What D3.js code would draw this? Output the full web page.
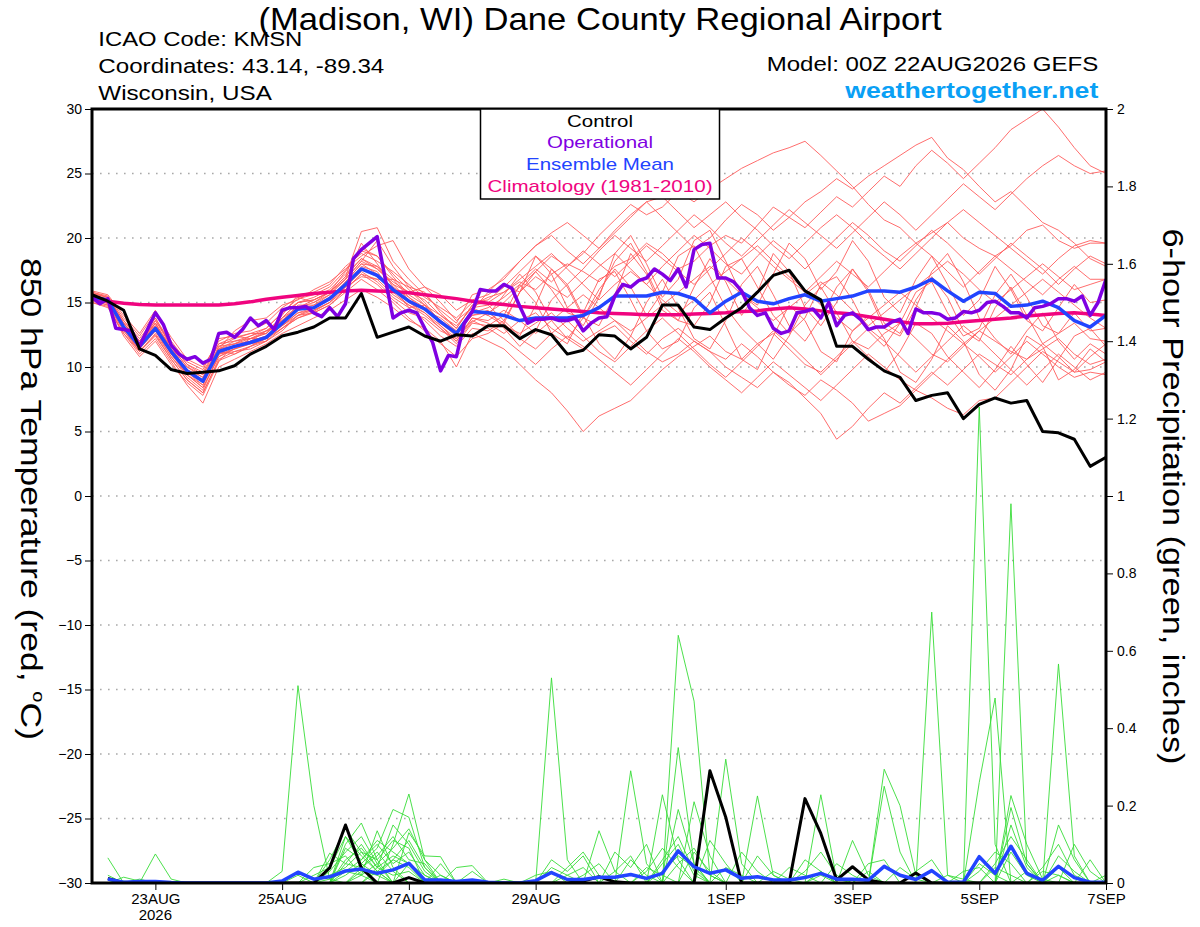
<!DOCTYPE html>
<html>
<head>
<meta charset="utf-8">
<title>KMSN GEFS plume</title>
<script src="https://cdn.jsdelivr.net/npm/d3@7/dist/d3.min.js"></script>
<style>
  html, body { margin: 0; padding: 0; background: #fff; }
  svg text { font-family: "Liberation Sans", Arial, Helvetica, sans-serif; }
</style>
</head>
<body>
<svg id="chart" width="1200" height="927"></svg>
<script>
// time axis: 6-hour steps from 00Z 22AUG2026 (step 0) to 00Z 7SEP2026 (step 64)
const dateSteps = [4, 12, 20, 28, 40, 48, 56, 64];
const dateLabels = ['23AUG', '25AUG', '27AUG', '29AUG', '1SEP', '3SEP', '5SEP', '7SEP'];
const tempTicks = [-30, -25, -20, -15, -10, -5, 0, 5, 10, 15, 20, 25, 30];
const precipTicks = [0, 0.2, 0.4, 0.6, 0.8, 1, 1.2, 1.4, 1.6, 1.8, 2];

// 850 hPa temperature, steps 0..64
const tempControl = [
  15.6, 15.1, 14.4, 11.4, 10.9, 9.8, 9.5, 9.6, 9.7, 10.1,
  11.0, 11.6, 12.4, 12.7, 13.1, 13.8, 13.8, 15.7, 12.3, 12.7,
  13.1, 12.4, 12.0, 12.5, 12.4, 13.2, 13.2, 12.2, 12.9, 12.5,
  11.0, 11.3, 12.5, 12.4, 11.4, 12.3, 14.8, 14.8, 13.1, 12.9,
  13.8, 14.6, 15.8, 17.1, 17.5, 15.9, 15.2, 11.6, 11.6, 10.6,
  9.7, 9.2, 7.4, 7.8, 8.0, 6.0, 7.1, 7.6, 7.2, 7.4,
  5.0, 4.9, 4.4, 2.3, 3.0
];
const tempMean = [
  15.4, 15.2, 13.1, 11.6, 13.0, 11.2, 9.7, 8.9, 11.2, 11.6,
  11.9, 12.3, 13.4, 14.5, 14.6, 15.3, 16.4, 17.6, 17.1, 16.0,
  15.1, 14.5, 13.5, 12.6, 14.3, 14.2, 14.0, 13.6, 13.8, 13.8,
  13.8, 14.0, 14.6, 15.5, 15.5, 15.5, 15.8, 15.7, 15.3, 14.2,
  15.1, 15.8, 15.1, 14.9, 15.3, 15.6, 15.1, 15.3, 15.5, 15.9,
  15.9, 15.8, 16.2, 16.8, 15.9, 15.1, 15.8, 15.7, 14.7, 14.8,
  15.1, 14.6, 13.6, 13.1, 14.0
];
const tempClimatology = [
  15.3, 15.1, 14.95, 14.85, 14.8, 14.8, 14.8, 14.8, 14.8, 14.9,
  15.05, 15.25, 15.4, 15.55, 15.7, 15.8, 15.9, 15.95, 15.9, 15.85,
  15.75, 15.6, 15.45, 15.3, 15.1, 14.95, 14.85, 14.7, 14.6, 14.5,
  14.4, 14.3, 14.2, 14.15, 14.1, 14.05, 14.05, 14.05, 14.1, 14.15,
  14.2, 14.3, 14.35, 14.5, 14.6, 14.5, 14.35, 14.2, 14.1, 13.9,
  13.7, 13.5, 13.35, 13.35, 13.4, 13.5, 13.6, 13.7, 13.8, 13.95,
  14.05, 14.15, 14.2, 14.1, 14.0
];
// operational run is 3-hourly: half steps 0, 0.5, ... 64
const tempOperational = [
  15.4, 14.9, 15.3, 13.0, 12.9, 12.8, 11.6, 12.9, 14.2, 13.3,
  11.7, 11.0, 10.6, 10.8, 10.3, 10.6, 12.6, 12.7, 12.3, 12.9,
  13.8, 13.2, 13.6, 12.9, 14.4, 14.6, 14.6, 14.7, 14.2, 13.9,
  14.6, 13.9, 14.9, 18.4, 19.1, 19.6, 20.1, 16.9, 13.8, 14.2,
  14.4, 14.2, 13.0, 11.9, 9.7, 10.9, 10.8, 13.4, 14.3, 16.0,
  15.9, 15.9, 16.4, 16.1, 14.7, 13.4, 13.7, 13.7, 13.8, 13.6,
  13.6, 13.8, 12.8, 13.4, 13.8, 13.9, 15.5, 16.4, 16.2, 16.7,
  16.9, 17.6, 17.2, 16.7, 17.6, 16.2, 19.1, 19.5, 19.6, 16.9,
  16.9, 16.6, 15.9, 14.6, 14.0, 14.2, 13.0, 12.6, 12.8, 14.2,
  14.3, 14.5, 13.8, 15.0, 13.2, 14.0, 14.2, 13.7, 12.9, 13.1,
  13.1, 13.5, 13.7, 12.6, 14.5, 14.2, 14.2, 14.1, 13.7, 13.8,
  14.3, 14.2, 14.4, 15.0, 15.1, 14.7, 14.2, 14.2, 13.8, 14.6,
  14.7, 14.9, 15.3, 15.3, 15.1, 15.5, 14.0, 15.0, 16.8
];
const tempMembers = [
  [15.6,15.0,13.4,12.0,13.6,11.8,10.2,9.4,11.8,12.3,12.6,13.0,14.2,15.3,15.6,16.2,17.5,19.2,18.6,17.0,15.6,14.8,13.2,12.0,13.5,
   14.2,15.0,16.2,17.4,18.6,17.8,18.8,20.2,21.4,22.6,21.8,22.4,23.6,22.8,23.8,24.6,25.4,26.0,26.6,27.0,27.5,26.4,25.2,24.0,22.6,21.4,20.8,19.6,20.4,21.2,20.0,19.2,18.6,19.4,20.6,21.0,19.8,19.2,19.6,19.6],
  [15.2,15.3,13.0,11.2,12.5,10.6,9.0,8.0,10.5,11.0,11.6,12.2,13.0,13.8,14.3,15.0,16.6,18.0,17.8,16.4,15.8,15.2,14.0,13.0,14.8,
   15.4,15.8,16.6,16.0,17.2,18.0,17.4,16.6,17.8,18.4,19.6,18.8,17.6,18.2,19.4,20.2,19.6,21.0,22.4,21.6,20.8,22.0,23.2,22.4,23.6,24.8,24.0,25.6,26.8,25.8,24.6,25.8,27.0,28.4,29.2,30.0,28.6,27.0,25.6,25.0],
  [15.8,15.5,13.8,12.4,14.2,12.3,10.6,10.0,12.0,12.6,12.8,13.4,14.6,15.4,15.0,15.8,17.0,20.5,20.8,18.2,16.8,15.6,14.4,13.4,15.6,
   16.0,16.8,18.2,19.4,20.2,19.0,18.0,19.2,20.6,21.8,22.8,21.6,20.4,19.2,20.0,21.4,22.6,21.8,20.6,21.6,22.8,23.6,24.6,23.8,24.8,25.6,26.4,27.2,27.8,26.2,25.3,24.0,22.8,23.6,22.4,21.2,20.6,19.6,18.4,17.8],
  [15.0,14.6,12.6,11.0,12.2,10.4,8.6,7.2,10.0,10.6,11.2,11.8,12.6,13.2,13.8,14.4,15.2,16.0,15.4,14.6,13.6,13.0,12.0,10.0,12.6,
   12.0,11.4,10.2,9.0,8.0,6.6,5.0,6.2,6.8,7.4,8.6,9.8,10.8,11.6,12.4,11.2,10.6,11.8,12.6,11.4,10.2,9.6,10.8,12.0,11.4,12.6,13.4,12.2,11.0,10.4,11.6,12.8,12.0,11.2,10.6,11.4,12.2,11.0,10.2,10.6],
  [15.5,15.1,13.2,11.8,13.2,11.4,9.8,8.8,11.4,12.8,13.6,13.8,14.8,15.2,16.0,16.6,17.6,18.6,19.4,19.8,17.6,16.2,15.0,13.6,14.6,
   14.0,13.2,12.6,13.4,14.2,13.0,12.0,12.8,13.6,12.4,11.2,10.4,11.0,12.0,11.2,10.0,9.2,8.4,9.6,8.8,7.6,6.4,4.4,5.4,6.8,8.0,7.2,8.4,9.6,8.6,9.8,11.0,10.2,9.4,10.6,11.8,10.8,9.6,9.8,10.4],
  [15.3,14.9,12.8,11.4,12.8,10.8,9.4,8.4,10.8,11.4,11.8,12.0,12.8,14.0,14.2,14.8,16.0,17.2,16.4,15.2,14.2,13.8,12.8,12.2,13.8,
   13.4,12.6,13.6,14.2,13.0,12.2,11.4,12.6,13.2,12.0,11.0,12.2,13.0,12.0,11.2,10.6,11.8,10.8,9.6,8.6,7.8,9.0,8.2,7.2,5.8,6.4,7.0,8.2,7.6,6.8,6.3,7.4,7.6,8.8,10.0,11.2,10.4,9.6,10.8,11.8],
  [15.7,15.4,13.6,12.2,13.8,11.6,10.0,9.2,11.0,11.2,11.4,12.0,13.8,15.0,15.4,16.0,17.2,18.4,17.6,16.6,15.8,16.2,15.6,14.4,15.2,
   15.6,16.4,15.8,17.0,16.2,15.4,16.6,17.8,18.8,17.6,16.4,17.8,19.0,20.2,19.2,18.0,17.2,18.6,19.8,18.8,17.6,18.8,20.0,21.2,20.2,19.0,18.2,19.4,20.6,19.6,18.4,17.2,18.4,19.6,18.6,17.6,16.4,17.6,18.6,18.0],
  [15.4,15.2,13.0,11.6,13.4,11.0,9.6,9.0,11.6,12.2,12.6,12.6,13.6,14.8,14.8,15.6,16.8,19.6,18.0,16.2,14.6,13.6,12.4,11.6,13.0,
   12.8,13.6,15.8,17.4,16.0,14.2,13.8,15.6,18.2,19.6,17.4,14.8,13.6,13.2,15.0,17.8,18.4,16.2,14.0,12.6,13.8,16.4,17.0,15.2,12.8,11.6,13.4,15.8,16.6,14.2,12.4,13.0,15.6,17.2,15.4,13.2,12.6,13.4,12.2,12.0],
  [15.1,14.8,12.4,10.8,12.0,10.2,8.8,7.8,10.4,11.8,12.4,12.8,13.2,14.0,14.4,15.0,16.2,17.0,16.8,16.8,15.4,14.4,13.8,12.8,14.0,
   14.2,13.4,12.2,11.4,12.6,13.6,12.4,11.2,10.4,11.6,12.8,13.8,12.6,11.4,10.2,9.2,10.4,11.6,12.8,11.8,10.6,9.4,10.6,11.8,13.0,12.0,10.8,9.6,10.8,12.0,13.2,12.2,11.0,9.8,8.6,9.8,11.0,10.0,9.0,9.6],
  [15.9,15.6,14.0,12.6,14.4,12.0,10.4,9.8,12.2,12.4,12.2,12.6,14.0,15.6,15.8,16.4,17.8,18.8,18.2,17.4,16.4,15.4,14.6,13.8,15.0,
   15.2,16.2,17.4,18.6,17.6,16.4,17.6,19.0,20.2,19.2,18.2,19.4,20.6,21.8,20.8,19.6,18.6,19.8,21.0,22.2,21.2,20.2,19.2,20.4,21.6,22.8,21.8,20.6,21.8,23.0,24.2,23.2,22.2,23.4,24.6,25.6,26.4,25.6,25.0,25.2],
  [15.4,15.0,13.2,11.4,13.0,11.2,9.4,8.6,11.2,11.0,11.6,12.4,13.6,14.4,14.8,15.4,16.4,17.8,17.4,15.8,14.8,14.2,13.0,11.8,13.4,
   13.2,14.0,16.4,15.0,12.6,11.8,14.2,16.8,17.4,15.2,12.8,11.4,12.0,14.6,15.8,13.2,10.6,9.8,12.4,14.8,13.6,11.2,10.4,12.8,14.0,12.2,9.6,8.8,10.6,13.2,12.0,9.4,8.2,9.8,12.4,11.6,9.0,9.8,11.4,10.4],
  [15.6,15.2,13.4,11.8,13.2,11.6,10.0,9.4,11.4,11.6,12.0,12.8,13.6,14.6,15.2,15.8,16.8,18.2,19.8,17.8,16.2,15.0,13.4,12.4,14.2,
   14.6,15.4,16.4,17.6,16.6,17.8,19.0,18.0,17.0,18.2,19.4,18.4,17.4,16.4,17.6,18.8,20.0,19.0,17.8,16.8,15.8,17.0,18.2,17.2,16.2,17.4,18.6,19.6,18.6,17.4,16.2,17.4,18.6,17.6,16.6,15.6,16.8,17.8,16.8,16.8],
  [15.2,14.8,12.8,11.2,12.6,10.8,9.2,8.2,11.0,11.4,12.2,12.2,13.0,14.0,14.6,15.2,16.2,17.4,16.6,15.4,14.6,14.8,14.0,13.2,14.6,
   14.8,13.6,12.4,14.8,17.6,16.2,13.8,13.2,15.6,18.8,17.2,14.4,13.6,16.2,18.4,16.6,14.0,15.8,18.8,17.4,14.6,13.2,15.0,17.6,16.0,13.4,12.6,15.2,17.0,15.4,12.8,12.0,14.6,16.2,14.0,11.8,12.6,14.2,12.8,13.0],
  [15.5,15.3,13.0,11.8,13.4,11.4,9.8,9.0,11.6,11.8,12.0,12.4,13.2,14.2,14.6,15.4,16.6,18.0,17.2,16.0,15.0,14.2,13.2,12.2,13.6,
   13.0,12.2,11.2,10.2,11.4,12.4,11.6,10.6,9.6,8.6,9.8,11.0,12.2,11.2,10.0,9.0,8.0,9.2,10.4,9.4,8.4,7.4,8.6,9.8,11.0,10.0,9.0,8.2,9.4,10.6,11.8,10.8,9.6,10.8,12.0,11.0,10.0,9.2,9.6,9.4],
  [15.8,15.4,13.6,12.0,13.8,11.8,10.2,9.6,11.8,12.0,12.4,13.0,14.2,15.0,15.2,15.8,17.4,19.0,18.6,17.2,16.0,14.8,13.6,12.8,14.4,
   15.8,17.0,18.2,19.4,20.4,21.2,20.2,19.2,20.4,21.6,22.8,23.2,22.0,20.8,21.8,22.8,21.6,20.6,19.4,18.4,19.6,20.8,21.8,20.8,19.6,18.6,17.6,18.8,20.0,21.2,22.2,21.2,20.2,19.2,18.2,17.2,18.4,19.4,19.8,19.6],
  [15.0,14.7,12.6,11.2,12.4,10.6,9.0,8.0,10.6,11.2,11.6,12.0,13.0,13.8,14.2,14.8,15.8,16.8,16.0,15.0,13.8,12.8,11.8,10.8,12.2,
   12.6,13.4,15.8,18.6,17.2,14.6,13.2,15.4,18.8,20.2,18.0,15.4,16.8,19.8,20.6,18.2,15.6,14.8,17.2,19.6,18.4,16.0,17.4,19.8,18.2,15.4,14.2,16.8,18.6,16.4,14.0,15.2,17.8,16.0,13.6,12.8,14.6,16.4,15.0,15.2],
  [15.3,15.1,13.2,11.6,13.0,11.0,9.6,8.8,11.0,11.6,12.0,12.4,13.4,14.4,14.6,15.2,16.2,17.6,17.0,16.2,15.4,14.6,13.6,12.6,14.0,
   14.4,13.0,11.6,12.8,15.2,16.4,14.0,11.8,10.6,12.4,15.0,16.8,14.6,12.2,11.4,13.6,16.4,17.8,15.6,13.2,12.0,13.8,16.2,17.6,15.8,13.0,12.4,14.6,17.4,18.8,16.6,13.8,12.2,11.0,12.8,14.2,12.0,10.6,11.8,11.0],
  [15.6,15.3,13.4,12.0,13.4,11.4,9.8,9.2,11.4,11.8,12.2,12.6,13.8,15.0,15.2,15.8,17.0,18.4,17.8,16.8,16.2,15.8,14.2,13.0,14.8,
   15.0,15.8,16.8,17.8,18.8,17.6,16.4,15.2,16.4,17.4,16.4,15.2,14.2,15.2,16.4,17.4,18.4,19.4,18.2,17.0,16.0,14.8,13.8,12.8,13.8,14.8,15.8,14.8,13.8,12.8,11.8,12.8,13.8,14.8,15.8,16.8,15.8,14.8,13.8,13.0],
  [15.4,15.0,13.0,11.4,12.8,11.0,9.4,8.4,10.8,11.4,11.8,12.2,13.2,14.2,14.4,15.0,16.0,17.2,16.8,15.6,14.8,14.0,13.0,12.0,13.8,
   13.6,14.4,13.6,12.6,13.6,14.6,15.6,14.6,13.6,12.8,13.8,14.8,15.8,16.8,17.8,16.8,15.6,14.6,13.6,14.6,15.6,16.6,15.6,14.4,13.2,14.2,15.2,16.2,17.2,18.2,17.2,16.0,15.0,16.0,17.0,18.0,17.0,16.0,16.4,16.8],
  [15.7,15.4,13.4,11.8,13.6,11.6,9.6,8.6,11.4,12.0,12.2,12.8,13.8,14.6,15.0,15.6,16.8,18.2,17.6,16.4,15.2,14.6,13.4,12.6,14.4,
   14.0,15.6,17.2,15.8,13.6,12.2,13.8,16.0,17.6,16.2,14.0,15.8,18.6,19.4,17.0,14.6,13.0,11.8,10.6,12.4,14.8,16.2,14.2,12.0,10.8,9.6,11.2,13.4,12.6,10.8,9.6,8.4,9.8,11.6,10.2,8.8,10.6,12.4,13.0,11.6]
];

// 6-hour precipitation (inches), steps 1..64
const precipControl = [
  .012,0,0,0,0,0,0,0, 0,0,0,0,0,0,.039,.15, .039,0,0,.014,0,0,0,0, 0,0,0,0,0,0,.005,.016,
  .003,0,0,0,0,0,.29,.17, 0,0,0,0,.218,.128,.008,.042, .008,0,0,.026,0,0,0,0, 0,0,0,0,0,0,0,0
];
const precipMean = [
  .01,.002,.004,.004,.001,0,0,0, 0,0,0,.005,.028,.01,.016,.031, .036,.025,.034,.051,.008,.008,.004,.008,
  .002,0,0,.006,.027,.009,.009,.015, .015,.022,.012,.025,.083,.042,.025,.034, .012,.016,.008,.008,.014,.025,.01,.01,
  .007,.043,.02,.009,.032,.002,.002,.068, .025,.095,.025,.007,.043,.014,.002,.002
];
const precipMembers = [
  [.065,0,0,0,0,0,0,0, 0,0,0,0,0,0,.03,.08, .12,.05,0,0,0,0,0,0, 0,0,0,0,.53,.06,0,0, 0,0,0,0,0,0,0,0, 0,0,0,0,0,.03,0,0, 0,0,0,0,0,0,0,1.23, .1,0,0,0,.02,0,0,0],
  [0,0,0,.075,.01,0,0,0, 0,0,0,.03,.51,.2,.01,0, 0,0,.1,.23,.06,0,0,0, 0,0,0,0,0,0,0,0, 0,0,0,0,.64,.47,.02,0, 0,0,0,0,0,0,0,0, 0,0,0,0,0,0,0,0, 0,.98,.05,0,0,0,0,0],
  [0,.015,.005,0,0,0,0,0, 0,0,0,0,0,0,0,.12, .05,.09,.19,.17,.04,0,0,0, 0,0,0,0,0,0,0,0, 0,.29,.05,0,0,0,0,0, 0,0,0,0,0,0,0,0, 0,0,0,0,.7,.02,0,0, 0,0,0,0,.566,.07,0,0],
  [.02,0,0,0,0,0,0,0, 0,0,0,0,0,0,.06,.14, .08,.03,0,.13,.07,.068,0,0, 0,0,0,0,0,0,0,0, 0,0,0,0,.35,.05,0,0, 0,0,0,0,0,0,0,0, 0,.294,.2,.02,0,0,0,.26, .478,0,0,0,0,0,0,0],
  [0,0,0,0,0,0,0,0, 0,0,0,0,0,0,0,.1, .155,.06,.11,.09,0,.02,0,0, 0,0,0,0,0,0,0,0, 0,0,0,0,0,0,0,.32, .05,0,0,0,0,0,0,0, 0,0,0,0,0,0,0,0, 0,.226,.1,.01,0,0,0,0],
  [0,0,0,0,0,0,0,0, 0,0,0,0,0,.04,.05,.07, .02,.135,.04,0,0,0,.04,.045, 0,0,0,0,0,0,0,0, 0,0,0,.228,.06,0,0,0, 0,0,0,0,0,0,0,0, 0,.25,.08,0,0,0,0,0, 0,.195,.05,0,0,0,0,0],
  [0,0,0,0,0,0,0,0, 0,0,0,0,.02,0,0,.09, .06,.11,.08,.05,0,0,0,0, 0,0,0,0,0,0,0,.135, .03,0,0,0,0,0,0,0, 0,.225,.02,0,0,0,0,0, 0,0,0,0,0,0,0,0, 0,0,0,0,.15,.06,0,0],
  [0,0,0,0,0,0,0,0, 0,0,0,0,0,0,.077,.05, .1,.04,.15,.1,.03,0,0,0, 0,0,0,0,.06,.03,.07,0, 0,0,0,0,0,0,0,0, 0,0,0,0,0,.228,.01,0, 0,0,0,0,0,0,0,0, 0,.15,.04,0,0,0,0,0],
  [0,0,0,0,0,0,0,0, 0,0,0,0,0,0,0,.06, .09,.04,.07,.05,0,0,0,0, 0,0,0,0,0,.04,.08,.02, 0,0,0,0,0,.21,.07,0, 0,0,0,0,0,0,0,.11, .02,0,0,0,0,0,0,0, .05,.12,.06,0,0,0,0,0],
  [0,0,0,0,0,0,0,0, 0,0,0,0,0,0,0,0, .04,.07,.12,.06,.05,0,0,0, 0,0,0,0,0,0,0,0, .08,.04,.1,0,0,0,0,0, .08,.03,0,0,0,0,0,0, 0,0,0,.03,.06,0,0,0, 0,0,0,0,0,.1,.03,0],
  [0,0,0,0,0,0,0,0, 0,0,0,0,0,0,0,.03, .06,.1,.05,.08,.02,0,0,0, 0,0,0,0,.04,.02,0,0, 0,0,0,.06,.12,.03,0,0, 0,0,0,0,.06,.03,0,0, 0,0,0,0,0,0,.03,.04, 0,0,0,0,0,0,.06,0],
  [0,0,0,0,0,0,0,0, 0,0,0,0,0,.02,.04,.12, .07,.03,0,0,0,.05,0,0, 0,0,0,0,0,0,0,0, 0,.06,.02,0,0,0,.11,.05, 0,0,0,0,0,0,0,0, .05,.06,0,0,0,0,0,0, 0,0,0,.04,.1,.02,0,0],
  [0,0,0,0,0,0,0,0, 0,0,0,0,0,0,0,0, .02,.05,.09,.14,.06,.02,0,0, 0,0,0,0,0,0,.02,.05, 0,0,0,0,.19,.05,0,0, 0,0,0,.04,.02,0,0,0, 0,0,0,0,0,0,0,.03, .08,.05,0,0,0,0,0,0],
  [0,0,0,0,0,0,0,0, 0,0,0,0,0,0,.02,.04, .08,.06,0,0,0,0,0,0, 0,.01,0,.02,.03,0,0,0, 0,0,.03,.09,.04,0,0,0, 0,0,0,0,0,0,.05,.02, 0,0,0,0,0,0,0,0, 0,0,.03,0,.04,0,0,0],
  [0,0,0,0,0,0,0,0, 0,0,0,0,0,0,0,0, 0,.03,.06,.11,.04,0,0,.03, 0,0,0,0,0,0,0,0, 0,0,0,.05,.1,.02,0,0, 0,.07,.02,0,0,0,0,0, 0,0,.04,.01,0,0,0,0, 0,.08,.02,0,0,0,0,0],
  [0,.005,0,0,0,0,0,0, 0,0,0,0,0,0,0,.05, .04,.08,.03,0,0,0,0,0, 0,0,0,0,0,0,0,0, .03,.07,0,0,0,0,0,.04, .02,0,0,0,0,0,0,0, 0,0,0,0,0,.02,.01,0, 0,0,0,0,0,0,0,.02],
  [0,0,0,0,0,0,0,0, 0,0,0,0,0,0,0,0, .03,.02,.06,.04,0,0,0,0, 0,0,0,0,0,.02,.04,0, 0,0,0,0,0,.08,.03,0, 0,0,0,0,.03,.08,.02,0, 0,0,0,0,0,0,0,0, .04,.02,0,0,0,0,0,0],
  [0,0,0,0,0,0,0,0, 0,0,0,0,0,0,0,.02, .05,.02,0,.05,.02,0,0,0, 0,0,0,0,0,0,0,0, 0,0,0,.03,.07,.04,0,0, 0,0,0,0,0,0,0,0, .03,0,0,0,0,0,0,0, 0,0,0,0,.07,.03,0,0],
  [0,0,.01,0,0,0,0,0, 0,0,0,0,0,0,0,0, 0,.04,.02,.03,0,0,0,0, 0,0,0,0,0,0,0,0, 0,0,.04,.02,0,0,0,0, 0,0,.03,.01,0,0,0,0, 0,0,0,0,0,0,0,.05, .02,0,0,0,0,0,0,0],
  [0,0,0,0,0,0,0,0, 0,0,0,0,0,0,.01,.03, .02,0,0,0,0,0,0,0, 0,0,0,0,0,0,0,0, 0,0,0,0,.05,.09,.02,0, 0,0,0,0,0,.02,0,0, 0,0,0,0,0,0,0,0, 0,0,0,.03,.02,0,0,0]
];

const plot = { left: 92, right: 1106, top: 109, bottom: 883 };

const svg = d3.select('#chart');

const x = d3.scaleLinear().domain([0, 64]).range([plot.left, plot.right]);
const yT = d3.scaleLinear().domain([-30, 30]).range([plot.bottom, plot.top]);
const yP = d3.scaleLinear().domain([0, 2]).range([plot.bottom, plot.top]);

svg.append('defs').append('clipPath').attr('id', 'plot-clip')
  .append('rect')
  .attr('x', plot.left).attr('y', plot.top)
  .attr('width', plot.right - plot.left).attr('height', plot.bottom - plot.top);

// stretched text, the way GrADS draws its strings
function stretched(parent, str, opts) {
  const t = parent.append('text')
    .attr('x', opts.x || 0).attr('y', opts.y || 0)
    .attr('font-size', opts.size)
    .attr('text-anchor', opts.anchor || 'start')
    .attr('fill', opts.color || '#000')
    .attr('textLength', opts.width)
    .attr('lengthAdjust', 'spacingAndGlyphs')
    .text(str);
  if (opts.bold) t.attr('font-weight', 'bold');
  if (opts.transform) t.attr('transform', opts.transform);
  return t;
}

// dotted grid lines
svg.append('g').selectAll('line')
  .data(tempTicks.slice(1, -1))
  .join('line')
  .attr('x1', plot.left).attr('x2', plot.right)
  .attr('y1', (d) => yT(d)).attr('y2', (d) => yT(d))
  .attr('stroke', '#a9a9a9')
  .attr('stroke-width', 1.3)
  .attr('stroke-dasharray', '1.6,6.4');

const tempLine = d3.line().x((d, i) => x(i)).y((d) => yT(d));
const opLine = d3.line().x((d, i) => x(i / 2)).y((d) => yT(d));
const precipLine = d3.line().x((d, i) => x(i + 1)).y((d) => yP(d));

const marks = svg.append('g')
  .attr('clip-path', 'url(#plot-clip)')
  .attr('fill', 'none')
  .attr('stroke-linejoin', 'round');

marks.selectAll('.temp-member')
  .data(tempMembers)
  .join('path')
  .attr('class', 'temp-member')
  .attr('d', tempLine)
  .attr('stroke', '#ff5c5c')
  .attr('stroke-width', 0.9);

marks.selectAll('.precip-member')
  .data(precipMembers)
  .join('path')
  .attr('class', 'precip-member')
  .attr('d', precipLine)
  .attr('stroke', '#38dc38')
  .attr('stroke-width', 0.9);

marks.append('path').datum(tempClimatology)
  .attr('d', tempLine).attr('stroke', '#f0047f').attr('stroke-width', 3.5);
marks.append('path').datum(tempMean)
  .attr('d', tempLine).attr('stroke', '#2244ff').attr('stroke-width', 3.5);
marks.append('path').datum(tempOperational)
  .attr('d', opLine).attr('stroke', '#7f00e2').attr('stroke-width', 3.5);
marks.append('path').datum(tempControl)
  .attr('d', tempLine).attr('stroke', '#000').attr('stroke-width', 3);

marks.append('path').datum(precipControl)
  .attr('d', precipLine).attr('stroke', '#000').attr('stroke-width', 3);
marks.append('path').datum(precipMean)
  .attr('d', precipLine).attr('stroke', '#2244ff').attr('stroke-width', 3.5);

// axes
const leftAxis = svg.append('g')
  .attr('transform', `translate(${plot.left},0)`)
  .call(d3.axisLeft(yT).tickValues(tempTicks).tickSize(7).tickSizeOuter(0).tickPadding(3));
leftAxis.attr('font-size', 14).attr('font-family', null);
leftAxis.select('.domain').remove();

const rightAxis = svg.append('g')
  .attr('transform', `translate(${plot.right},0)`)
  .call(d3.axisRight(yP).tickValues(precipTicks).tickSize(7).tickSizeOuter(0).tickPadding(4)
    .tickFormat((d) => String(+d.toFixed(1))));
rightAxis.attr('font-size', 14).attr('font-family', null);
rightAxis.select('.domain').remove();

const bottomAxis = svg.append('g')
  .attr('transform', `translate(0,${plot.bottom})`)
  .call(d3.axisBottom(x).tickValues(dateSteps).tickSize(7).tickSizeOuter(0).tickPadding(3)
    .tickFormat((d, i) => dateLabels[i]));
bottomAxis.attr('font-size', 15).attr('font-family', null);
bottomAxis.select('.domain').remove();

svg.append('text')
  .attr('x', x(dateSteps[0])).attr('y', 920)
  .attr('font-size', 15).attr('text-anchor', 'middle')
  .text('2026');

// plot frame
svg.append('rect')
  .attr('x', plot.left).attr('y', plot.top)
  .attr('width', plot.right - plot.left).attr('height', plot.bottom - plot.top)
  .attr('fill', 'none').attr('stroke', '#000').attr('stroke-width', 3);

// legend
const legend = svg.append('g');
legend.append('rect')
  .attr('x', 480.5).attr('y', plot.top)
  .attr('width', 239).attr('height', 90)
  .attr('fill', '#fff').attr('stroke', '#000').attr('stroke-width', 1.5);
stretched(legend, 'Control', { x: 600, y: 126.7, size: 17, anchor: 'middle', width: 66 });
stretched(legend, 'Operational', { x: 600, y: 148.3, size: 17, anchor: 'middle', width: 106, color: '#7f00e2' });
stretched(legend, 'Ensemble Mean', { x: 600, y: 170, size: 17, anchor: 'middle', width: 148, color: '#2244ff' });
stretched(legend, 'Climatology (1981-2010)', { x: 600, y: 191.7, size: 17, anchor: 'middle', width: 225, color: '#f0047f' });

// header
stretched(svg, '(Madison, WI) Dane County Regional Airport', { x: 600, y: 29.5, size: 30.5, anchor: 'middle', width: 683 });
stretched(svg, 'ICAO Code: KMSN', { x: 98.3, y: 46, size: 19.5, width: 204 });
stretched(svg, 'Coordinates: 43.14, -89.34', { x: 98.3, y: 73, size: 19.5, width: 286 });
stretched(svg, 'Wisconsin, USA', { x: 98.3, y: 99.5, size: 19.5, width: 173.5 });
stretched(svg, 'Model: 00Z 22AUG2026 GEFS', { x: 1098.3, y: 70.7, size: 19.5, anchor: 'end', width: 331.6 });
stretched(svg, 'weathertogether.net', { x: 1098.3, y: 97.7, size: 22, anchor: 'end', width: 253, bold: true, color: '#0aa0f5' });

// axis titles
const leftTitle = svg.append('text')
  .attr('transform', 'translate(21,499) rotate(90)')
  .attr('text-anchor', 'middle')
  .attr('font-size', 30)
  .attr('textLength', 482)
  .attr('lengthAdjust', 'spacingAndGlyphs');
leftTitle.append('tspan').text('850 hPa Temperature (red, ');
leftTitle.append('tspan').attr('font-size', 17).attr('dy', -12).text('o');
leftTitle.append('tspan').attr('dy', 12).text('C)');

stretched(svg, '6-hour Precipitation (green, inches)',
  { size: 30, anchor: 'middle', width: 536, transform: 'translate(1163,496.5) rotate(90)' });
</script>
</body>
</html>
